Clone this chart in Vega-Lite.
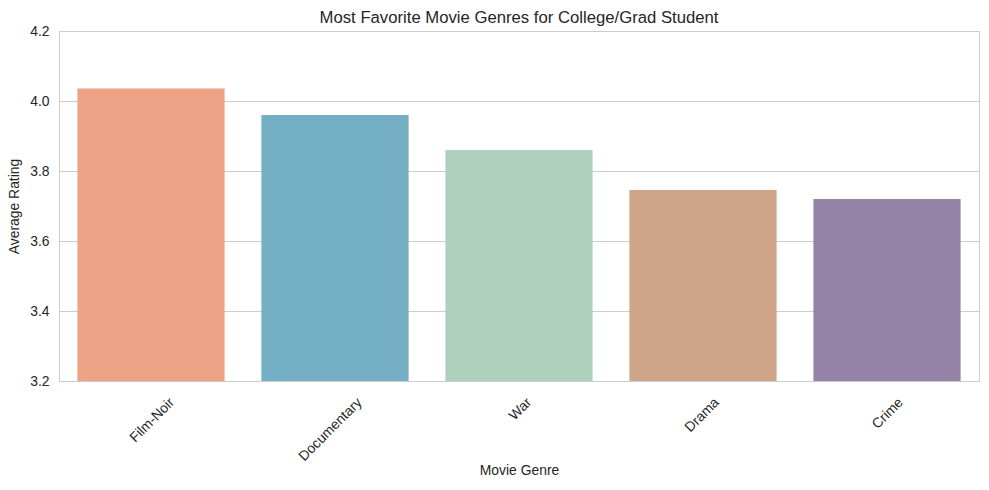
{
  "$schema": "https://vega.github.io/schema/vega-lite/v6.json",
  "width": 920,
  "height": 350,
  "autosize": {"type": "none"},
  "padding": {"left": 59, "top": 31, "right": 10, "bottom": 109},
  "background": "white",
  "title": {
    "text": "Most Favorite Movie Genres for College/Grad Student",
    "font": "Liberation Sans",
    "fontSize": 16.7,
    "fontWeight": "normal",
    "color": "#262626",
    "anchor": "middle",
    "offset": 8,
    "dy": 11
  },
  "config": {
    "view": {"stroke": "#cccccc", "strokeWidth": 1},
    "axis": {
      "labelFont": "Liberation Sans",
      "titleFont": "Liberation Sans",
      "labelFontSize": 13.9,
      "titleFontSize": 13.9,
      "labelColor": "#262626",
      "titleColor": "#262626",
      "titleFontWeight": "normal",
      "ticks": false,
      "tickSize": 0,
      "domain": false
    }
  },
  "data": {
    "values": [
      {"genre": "Film-Noir", "rating": 4.036},
      {"genre": "Documentary", "rating": 3.96},
      {"genre": "War", "rating": 3.86},
      {"genre": "Drama", "rating": 3.746},
      {"genre": "Crime", "rating": 3.72}
    ]
  },
  "mark": {"type": "bar", "clip": true},
  "encoding": {
    "x": {
      "field": "genre",
      "type": "nominal",
      "sort": null,
      "scale": {"paddingInner": 0.2, "paddingOuter": 0.1},
      "axis": {
        "title": "Movie Genre",
        "labelAngle": -45,
        "labelAlign": "right",
        "labelBaseline": "top",
        "labelPadding": 14,
        "labelOverlap": false,
        "labelBound": false,
        "grid": false,
        "titlePadding": 0,
        "labelOffset": {"expr": "1.8*length(datum.label)"}
      }
    },
    "y": {
      "field": "rating",
      "type": "quantitative",
      "scale": {"domain": [3.2, 4.2], "zero": false, "nice": false},
      "axis": {
        "title": "Average Rating",
        "values": [3.2, 3.4, 3.6, 3.8, 4.0, 4.2],
        "format": ".1f",
        "grid": true,
        "gridColor": "#cccccc",
        "gridWidth": 1,
        "labelPadding": 10,
        "titlePadding": 8
      }
    },
    "color": {
      "field": "genre",
      "type": "nominal",
      "scale": {
        "domain": ["Film-Noir", "Documentary", "War", "Drama", "Crime"],
        "range": ["#EEA387", "#74AFC4", "#AFD0BC", "#CEA588", "#9583A7"]
      },
      "legend": null
    }
  }
}
